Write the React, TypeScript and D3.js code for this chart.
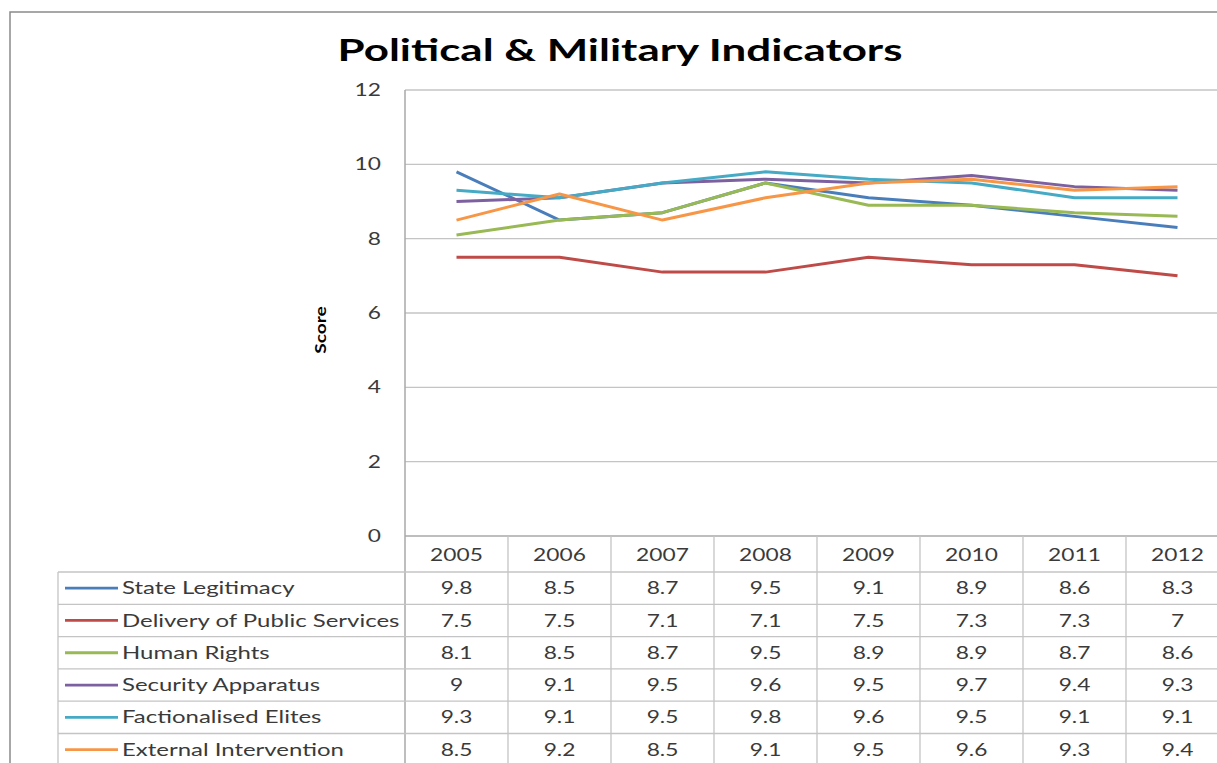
import React from "react";
import * as d3 from "d3";

const years = ["2005", "2006", "2007", "2008", "2009", "2010", "2011", "2012"];
const seriesNames = [
  "State Legitimacy",
  "Delivery of Public Services",
  "Human Rights",
  "Security Apparatus",
  "Factionalised Elites",
  "External Intervention",
];
const stateLegitimacy = [9.8, 8.5, 8.7, 9.5, 9.1, 8.9, 8.6, 8.3];
const deliveryPublicServices = [7.5, 7.5, 7.1, 7.1, 7.5, 7.3, 7.3, 7];
const humanRights = [8.1, 8.5, 8.7, 9.5, 8.9, 8.9, 8.7, 8.6];
const securityApparatus = [9, 9.1, 9.5, 9.6, 9.5, 9.7, 9.4, 9.3];
const factionalisedElites = [9.3, 9.1, 9.5, 9.8, 9.6, 9.5, 9.1, 9.1];
const externalIntervention = [8.5, 9.2, 8.5, 9.1, 9.5, 9.6, 9.3, 9.4];
const yTicks = [0, 2, 4, 6, 8, 10, 12];
const colors = ["#4A7EBB", "#BE4B48", "#98B954", "#7D60A0", "#46AAC5", "#F79646"];

const seriesValues = [
  stateLegitimacy,
  deliveryPublicServices,
  humanRights,
  securityApparatus,
  factionalisedElites,
  externalIntervention,
];

const font = "Lato, 'Open Sans', sans-serif";
const textColor = "#3a3a3a";

function WideText(props: {
  x: number;
  y: number;
  sx: number;
  anchor?: "start" | "middle" | "end";
  size?: number;
  children: React.ReactNode;
}) {
  return (
    <text
      transform={`translate(${props.x},${props.y}) scale(${props.sx},1)`}
      dy="0.35em"
      textAnchor={props.anchor || "start"}
      fontFamily={font}
      fontSize={props.size || 17.5}
      fill={textColor}
    >
      {props.children}
    </text>
  );
}

export default function App() {
  const W = 1217;
  const H = 763;
  const plotLeft = 405;
  const plotRight = 1229;
  const plotTop = 90;
  const plotBottom = 536;
  const headerBottom = 572;
  const rowH = 32.3;
  const legendLeft = 58;
  const gridColor = "#c4c4c4";
  const numSx = 1.3;
  const nameSx = 1.37;

  const x = d3.scaleBand<string>().domain(years).range([plotLeft, plotRight]).padding(0);
  const y = d3.scaleLinear().domain([0, 12]).range([plotBottom, plotTop]);
  const cx = (yr: string) => (x(yr) as number) + x.bandwidth() / 2;

  const line = d3
    .line<number>()
    .x((_, i) => cx(years[i]))
    .y((v) => y(v));

  const tableBottom = H + 20;

  return (
    <div style={{ position: "absolute", left: 0, top: 0, width: W, height: H, overflow: "hidden" }}>
      <svg width={W} height={H} style={{ display: "block", background: "#fff" }}>
        {/* outer frame */}
        <rect x={10} y={12} width={W + 20} height={H + 20} fill="#fff" stroke="#8a8a8a" strokeWidth={1.5} />

        {/* title */}
        <text
          x={620}
          y={61}
          textAnchor="middle"
          fontFamily={font}
          fontWeight="bold"
          fontSize={31}
          fill="#000"
          textLength={565}
          lengthAdjust="spacingAndGlyphs"
        >
          Political &amp; Military Indicators
        </text>

        {/* gridlines */}
        {yTicks.map((t) => (
          <line key={"g" + t} x1={plotLeft} x2={plotRight} y1={y(t)} y2={y(t)} stroke={t === 0 ? "#a8a8a8" : gridColor} strokeWidth={1.3} />
        ))}
        {/* y tick labels */}
        {yTicks.map((t) => (
          <WideText key={"yl" + t} x={381} y={y(t)} sx={numSx} anchor="end">
            {t}
          </WideText>
        ))}
        {/* y axis line (extends through table) */}
        <line x1={plotLeft} x2={plotLeft} y1={plotTop} y2={tableBottom} stroke="#a8a8a8" strokeWidth={1.5} />

        {/* axis title */}
        <text
          transform={`translate(${326},${330}) rotate(-90) scale(1.2,1)`}
          textAnchor="middle"
          fontFamily={font}
          fontWeight="bold"
          fontSize={16}
          fill="#000"
        >
          Score
        </text>

        {/* table: vertical column lines */}
        {years.map((yr, i) =>
          i === 0 ? null : (
            <line key={"v" + yr} x1={x(yr)} x2={x(yr)} y1={plotBottom} y2={tableBottom} stroke={gridColor} strokeWidth={1.3} />
          )
        )}
        {/* header labels */}
        {years.map((yr) => (
          <WideText key={"h" + yr} x={cx(yr)} y={(plotBottom + headerBottom) / 2 + 1} sx={numSx} anchor="middle">
            {yr}
          </WideText>
        ))}
        {/* legend column left border */}
        <line x1={legendLeft} x2={legendLeft} y1={headerBottom} y2={tableBottom} stroke={gridColor} strokeWidth={1.3} />
        {/* row lines */}
        {seriesNames.map((_, i) => (
          <line
            key={"r" + i}
            x1={legendLeft}
            x2={plotRight}
            y1={headerBottom + i * rowH}
            y2={headerBottom + i * rowH}
            stroke={gridColor}
            strokeWidth={1.3}
          />
        ))}
        {/* rows */}
        {seriesNames.map((name, i) => {
          const cy = headerBottom + i * rowH + rowH / 2;
          return (
            <g key={"row" + name}>
              <line x1={65} x2={118} y1={cy} y2={cy} stroke={colors[i]} strokeWidth={2.8} />
              <WideText x={122} y={cy} sx={nameSx}>
                {name}
              </WideText>
              {seriesValues[i].map((v, j) => (
                <WideText key={"c" + j} x={cx(years[j])} y={cy} sx={numSx} anchor="middle">
                  {String(v)}
                </WideText>
              ))}
            </g>
          );
        })}

        {/* series lines */}
        {seriesValues.map((vals, i) => (
          <path key={"s" + i} d={line(vals) as string} fill="none" stroke={colors[i]} strokeWidth={3} strokeLinejoin="round" />
        ))}
      </svg>
    </div>
  );
}
